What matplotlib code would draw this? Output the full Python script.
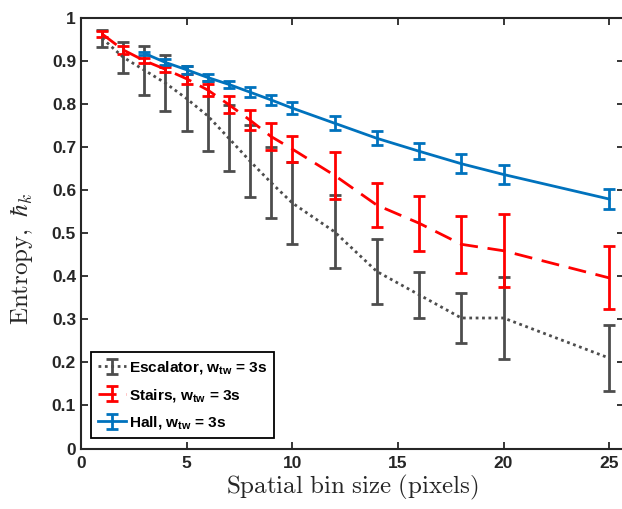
import matplotlib
matplotlib.use("Agg")
import matplotlib.pyplot as plt
import numpy as np

# ---- data ----
x_all = [1, 2, 3, 4, 5, 6, 7, 8, 9, 10, 12, 14, 16, 18, 20, 25]
x_hall = [3, 4, 5, 6, 7, 8, 9, 10, 12, 14, 16, 18, 20, 25]

esc_mean = [0.952, 0.908, 0.878, 0.848, 0.812, 0.772, 0.720, 0.667, 0.617, 0.570,
            0.503, 0.411, 0.357, 0.303, 0.303, 0.210]
esc_err = [0.020, 0.036, 0.057, 0.065, 0.076, 0.082, 0.077, 0.083, 0.082, 0.095,
           0.085, 0.075, 0.053, 0.059, 0.094, 0.076]

st_mean = [0.962, 0.925, 0.900, 0.880, 0.858, 0.832, 0.798, 0.762, 0.724, 0.695,
           0.634, 0.565, 0.523, 0.474, 0.459, 0.396]
st_err = [0.007, 0.009, 0.006, 0.006, 0.012, 0.015, 0.020, 0.023, 0.032, 0.030,
          0.055, 0.052, 0.064, 0.066, 0.085, 0.073]

hall_mean = [0.917, 0.896, 0.879, 0.861, 0.845, 0.827, 0.809, 0.790, 0.755, 0.720,
             0.690, 0.661, 0.636, 0.579]
hall_err = [0.004, 0.007, 0.009, 0.009, 0.009, 0.011, 0.012, 0.014, 0.016, 0.016,
            0.018, 0.022, 0.022, 0.024]

labels = [r'Escalator, w$_\mathrm{tw}$ = 3s',
          r'Stairs, w$_\mathrm{tw}$ = 3s',
          r'Hall, w$_\mathrm{tw}$ = 3s']

xticks = [0, 5, 10, 15, 20, 25]
yticks = [0, 0.1, 0.2, 0.3, 0.4, 0.5, 0.6, 0.7, 0.8, 0.9, 1]
ytick_labels = ['0', '0.1', '0.2', '0.3', '0.4', '0.5', '0.6', '0.7', '0.8', '0.9', '1']

# ---- style ----
plt.rcParams['font.family'] = ['Liberation Sans', 'DejaVu Sans']
plt.rcParams['mathtext.fontset'] = 'custom'
plt.rcParams['mathtext.rm'] = 'Liberation Sans:bold'
plt.rcParams['mathtext.bf'] = 'Liberation Sans:bold'
plt.rcParams['mathtext.it'] = 'Liberation Sans:bold'

c_gray = '#4d4d4d'
c_red = '#ff0000'
c_blue = '#0072bd'
axc = '#262626'

fig = plt.figure(figsize=(6.22, 5.09), dpi=100)
ax = fig.add_axes([0.1302, 0.1187, 0.873, 0.8467])

kw = dict(linewidth=2, elinewidth=2, capsize=4.5, capthick=2)
ax.errorbar(x_all, esc_mean, yerr=esc_err, color=c_gray, linestyle=(0, (1, 1.3)),
            label=labels[0], **kw)
ax.errorbar(x_all, st_mean, yerr=st_err, color=c_red, linestyle=(0, (6.5, 3.5)),
            label=labels[1], **kw)
ax.errorbar(x_hall, hall_mean, yerr=hall_err, color=c_blue, linestyle='-',
            label=labels[2], **kw)

ax.set_xlim(0, 25.7)
ax.set_ylim(0, 1)
ax.set_xticks(xticks)
ax.set_yticks(yticks)
ax.set_yticklabels(ytick_labels)
ax.tick_params(direction='in', length=5, width=1.3, colors=axc, top=True, right=True,
               labelsize=12.5)
ax.tick_params(axis='x', pad=5)
for lab in ax.get_xticklabels() + ax.get_yticklabels():
    lab.set_fontweight('bold')
    lab.set_color(axc)
for s in ax.spines.values():
    s.set_linewidth(1.5)
    s.set_color(axc)

ax.set_xlabel(r'$\mathrm{Spatial\ bin\ size\ (pixels)}$', fontsize=18,
              math_fontfamily='cm', color=axc, labelpad=2)
ax.set_ylabel(r'$\mathrm{Entropy,}\ \hbar_k$', fontsize=18,
              math_fontfamily='cm', color=axc)
ax.yaxis.set_label_coords(-0.085, 0.44)

leg = ax.legend(loc='lower left', fancybox=False, edgecolor='black', framealpha=1,
                prop={'weight': 'bold', 'size': 11.1}, borderaxespad=0.68,
                handlelength=1.8, handletextpad=0.2, labelspacing=0.68,
                borderpad=0.45)
leg.get_frame().set_linewidth(1.3)
for t in leg.get_texts():
    t.set_color('black')

fig.savefig('out.png', dpi=100)
